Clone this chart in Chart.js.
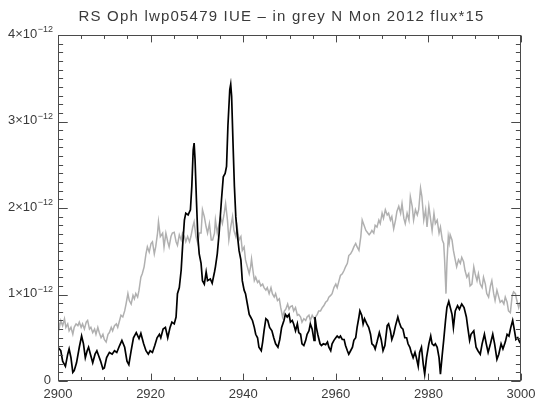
<!DOCTYPE html>
<html>
<head>
<meta charset="utf-8">
<title>RS Oph lwp05479 IUE</title>
<script src="https://cdn.jsdelivr.net/npm/chart.js@4.4.1/dist/chart.umd.min.js"></script>
<style>
  html, body { margin: 0; padding: 0; background: #ffffff; }
  canvas { display: block; }
</style>
</head>
<body>
<canvas id="spec" width="535" height="401"></canvas>
<script>
// RS Oph, IUE LWP 05479 spectrum (flux in units of 1e-12)
const lwpWave = [
  2900.0, 2900.6, 2901.0, 2901.6, 2902.1, 2902.4, 2902.8, 2903.2, 2903.5, 2904.0,
  2904.6, 2905.1, 2905.5, 2905.9, 2906.3, 2906.6, 2907.0, 2907.5, 2908.0, 2908.4,
  2908.8, 2909.2, 2909.7, 2910.0, 2910.5, 2911.1, 2911.7, 2912.2, 2912.7, 2913.3,
  2913.8, 2914.4, 2914.9, 2915.3, 2915.8, 2916.3, 2916.9, 2917.5, 2917.9, 2918.5,
  2919.0, 2919.5, 2919.9, 2920.4, 2920.9, 2921.4, 2921.9, 2922.2, 2922.7, 2923.2,
  2923.7, 2924.2, 2924.6, 2925.1, 2925.5, 2925.8, 2926.2, 2926.6, 2926.9, 2927.3,
  2927.6, 2928.1, 2928.6, 2928.9, 2929.2, 2929.4, 2929.6, 2929.9, 2930.2, 2930.5,
  2930.9, 2931.2, 2931.6, 2932.0, 2932.3, 2932.9, 2933.3, 2933.8, 2934.0, 2934.4,
  2934.8, 2935.3, 2935.7, 2936.1, 2936.4, 2936.7, 2937.1, 2937.3, 2937.5, 2937.8,
  2938.1, 2938.4, 2938.7, 2939.1, 2939.5, 2939.8, 2940.2, 2940.5, 2940.9, 2941.3,
  2941.6, 2942.0, 2942.4, 2942.7, 2943.1, 2943.4, 2943.9, 2944.2, 2944.5, 2944.9,
  2945.3, 2945.7, 2946.2, 2946.6, 2947.0, 2947.5, 2947.9, 2948.3, 2948.8, 2949.1,
  2949.5, 2949.9, 2950.2, 2950.6, 2950.9, 2951.3, 2951.7, 2952.0, 2952.4, 2952.7,
  2953.1, 2953.5, 2953.8, 2954.2, 2954.5, 2954.9, 2955.3, 2955.5, 2955.8, 2956.1,
  2956.6, 2956.9, 2957.3, 2957.8, 2958.2, 2958.5, 2958.9, 2959.2, 2959.6, 2960.0,
  2960.3, 2960.7, 2961.0, 2961.4, 2961.8, 2962.1, 2962.5, 2962.8, 2963.2, 2963.6,
  2963.9, 2964.3, 2964.6, 2965.0, 2965.2, 2965.6, 2965.9, 2966.2, 2966.7, 2967.1,
  2967.5, 2967.8, 2968.2, 2968.5, 2968.9, 2969.4, 2969.8, 2970.2, 2970.6, 2971.1,
  2971.4, 2971.8, 2972.1, 2972.5, 2972.9, 2973.4, 2973.7, 2974.1, 2974.5, 2974.9,
  2975.3, 2975.6, 2976.0, 2976.3, 2976.7, 2977.1, 2977.4, 2977.8, 2978.1, 2978.5,
  2978.9, 2979.2, 2979.6, 2980.1, 2980.5, 2980.8, 2981.2, 2981.5, 2981.9, 2982.3,
  2982.6, 2983.0, 2983.3, 2983.7, 2984.0, 2984.4, 2985.1, 2985.4, 2985.8, 2986.3,
  2986.7, 2987.2, 2987.7, 2988.2, 2988.5, 2988.9, 2989.2, 2989.8, 2990.3, 2990.7,
  2991.2, 2991.6, 2992.1, 2992.5, 2992.9, 2993.4, 2993.9, 2994.3, 2994.8, 2995.2,
  2995.7, 2996.1, 2996.6, 2997.0, 2997.4, 2997.8, 2998.2, 2998.6, 2998.9, 2999.3,
  2999.7, 3000.0
];
const lwpFlux = [
  0.39, 0.35, 0.23, 0.17, 0.31, 0.37, 0.27, 0.10, 0.12, 0.21,
  0.39, 0.52, 0.43, 0.27, 0.35, 0.39, 0.31, 0.21, 0.31, 0.35,
  0.29, 0.23, 0.14, 0.15, 0.27, 0.33, 0.31, 0.35, 0.33, 0.41,
  0.47, 0.39, 0.23, 0.19, 0.35, 0.50, 0.56, 0.49, 0.55, 0.43,
  0.35, 0.31, 0.35, 0.33, 0.41, 0.50, 0.54, 0.50, 0.60, 0.62,
  0.50, 0.62, 0.68, 0.66, 0.74, 1.01, 1.08, 1.28, 1.55, 1.86,
  1.94, 1.92, 1.98, 2.25, 2.67, 2.75, 2.56, 2.09, 1.67, 1.47,
  1.36, 1.16, 1.12, 1.26, 1.16, 1.18, 1.13, 1.26, 1.32, 1.47,
  1.71, 2.09, 2.36, 2.40, 2.48, 2.95, 3.37, 3.43, 3.29, 2.75,
  2.25, 1.90, 1.71, 1.51, 1.40, 1.16, 1.05, 1.01, 0.89, 0.77,
  0.74, 0.70, 0.62, 0.54, 0.50, 0.39, 0.35, 0.45, 0.58, 0.72,
  0.70, 0.62, 0.58, 0.50, 0.43, 0.39, 0.48, 0.62, 0.70, 0.77,
  0.74, 0.77, 0.68, 0.70, 0.66, 0.58, 0.66, 0.56, 0.54, 0.43,
  0.41, 0.47, 0.54, 0.58, 0.66, 0.60, 0.47, 0.74, 0.62, 0.54,
  0.43, 0.41, 0.43, 0.42, 0.45, 0.39, 0.35, 0.43, 0.47, 0.50,
  0.52, 0.50, 0.52, 0.48, 0.48, 0.41, 0.35, 0.31, 0.35, 0.39,
  0.47, 0.50, 0.62, 0.74, 0.81, 0.76, 0.66, 0.72, 0.66, 0.62,
  0.54, 0.43, 0.41, 0.37, 0.45, 0.56, 0.48, 0.35, 0.41, 0.64,
  0.66, 0.58, 0.48, 0.54, 0.64, 0.74, 0.68, 0.62, 0.60, 0.50,
  0.50, 0.43, 0.39, 0.33, 0.27, 0.33, 0.27, 0.17, 0.33, 0.39,
  0.19, 0.08, 0.27, 0.43, 0.52, 0.43, 0.41, 0.43, 0.39, 0.27,
  0.08, 0.31, 0.47, 0.70, 0.85, 0.92, 0.77, 0.62, 0.81, 0.87,
  0.83, 0.89, 0.85, 0.74, 0.62, 0.47, 0.54, 0.58, 0.39, 0.35,
  0.31, 0.43, 0.54, 0.43, 0.33, 0.43, 0.54, 0.43, 0.25, 0.31,
  0.43, 0.37, 0.45, 0.54, 0.52, 0.62, 0.70, 0.58, 0.48, 0.50,
  0.45, 0.43
];

// N Mon 2012, flux multiplied by 15 (same units)
const nmonWave = [
  2900.0, 2900.3, 2900.6, 2901.0, 2901.4, 2901.7, 2902.1, 2902.4, 2902.8, 2903.2,
  2903.5, 2903.9, 2904.3, 2904.6, 2905.0, 2905.3, 2905.7, 2906.1, 2906.4, 2906.8,
  2907.1, 2907.5, 2907.9, 2908.2, 2908.6, 2908.9, 2909.3, 2909.7, 2910.0, 2910.4,
  2910.8, 2911.1, 2911.5, 2911.8, 2912.2, 2912.6, 2912.9, 2913.3, 2913.6, 2914.0,
  2914.4, 2914.7, 2915.1, 2915.4, 2915.8, 2916.2, 2916.5, 2916.8, 2917.2, 2917.5,
  2917.9, 2918.2, 2918.6, 2919.0, 2919.3, 2919.7, 2920.1, 2920.4, 2920.8, 2921.1,
  2921.5, 2921.7, 2922.1, 2922.6, 2922.9, 2923.3, 2923.7, 2924.0, 2924.4, 2924.7,
  2925.1, 2925.5, 2925.8, 2926.2, 2926.6, 2926.9, 2927.3, 2927.6, 2928.0, 2928.4,
  2928.7, 2929.1, 2929.4, 2929.8, 2930.2, 2930.5, 2930.9, 2931.2, 2931.6, 2932.0,
  2932.3, 2932.7, 2933.1, 2933.4, 2933.8, 2934.0, 2934.4, 2934.8, 2935.1, 2935.5,
  2935.9, 2936.2, 2936.6, 2936.9, 2937.3, 2937.7, 2938.0, 2938.4, 2938.7, 2939.1,
  2939.5, 2939.8, 2940.2, 2940.5, 2940.9, 2941.3, 2941.6, 2941.8, 2942.1, 2942.4,
  2942.7, 2943.1, 2943.4, 2943.8, 2944.2, 2944.5, 2944.9, 2945.2, 2945.6, 2946.0,
  2946.3, 2946.7, 2947.0, 2947.4, 2947.8, 2948.1, 2948.5, 2948.9, 2949.2, 2949.6,
  2949.9, 2950.2, 2950.6, 2950.9, 2951.3, 2951.7, 2952.0, 2952.4, 2952.7, 2953.1,
  2953.5, 2953.8, 2954.2, 2954.5, 2954.9, 2955.3, 2955.6, 2956.0, 2956.3, 2956.7,
  2957.1, 2957.4, 2957.8, 2958.2, 2958.5, 2958.9, 2959.2, 2959.6, 2960.0, 2960.3,
  2960.7, 2961.0, 2961.4, 2961.8, 2962.1, 2962.5, 2962.8, 2963.2, 2963.6, 2963.9,
  2964.3, 2964.6, 2965.0, 2965.4, 2965.7, 2966.1, 2966.5, 2966.8, 2967.2, 2967.5,
  2967.8, 2968.2, 2968.5, 2968.9, 2969.3, 2969.6, 2970.0, 2970.3, 2970.7, 2971.1,
  2971.4, 2971.8, 2972.1, 2972.5, 2972.9, 2973.2, 2973.6, 2974.0, 2974.3, 2974.7,
  2975.0, 2975.4, 2975.8, 2976.1, 2976.5, 2976.8, 2977.2, 2977.6, 2977.9, 2978.3,
  2978.6, 2979.0, 2979.4, 2979.7, 2980.1, 2980.5, 2980.8, 2981.2, 2981.5, 2981.9,
  2982.3, 2982.6, 2983.0, 2983.3, 2983.5, 2983.8, 2984.0, 2984.3, 2984.5, 2984.7,
  2985.1, 2985.4, 2985.8, 2986.1, 2986.5, 2986.9, 2987.2, 2987.6, 2987.9, 2988.3,
  2988.7, 2989.0, 2989.4, 2989.8, 2990.1, 2990.5, 2990.8, 2991.2, 2991.6, 2991.9,
  2992.3, 2992.6, 2993.0, 2993.4, 2993.7, 2994.1, 2994.4, 2994.8, 2995.2, 2995.5,
  2995.9, 2996.3, 2996.6, 2997.0, 2997.3, 2997.7, 2998.1, 2998.4, 2998.8, 2999.1,
  2999.5, 2999.8
];
const nmonFlux = [
  0.70, 0.62, 0.70, 0.64, 0.72, 0.62, 0.66, 0.58, 0.62, 0.54,
  0.62, 0.66, 0.64, 0.68, 0.62, 0.66, 0.60, 0.68, 0.70, 0.60,
  0.62, 0.56, 0.60, 0.54, 0.62, 0.56, 0.50, 0.54, 0.48, 0.45,
  0.54, 0.56, 0.62, 0.58, 0.64, 0.66, 0.62, 0.70, 0.76, 0.74,
  0.81, 0.89, 1.01, 0.93, 0.89, 0.99, 0.95, 1.01, 0.97, 1.05,
  1.20, 1.24, 1.32, 1.47, 1.55, 1.49, 1.59, 1.61, 1.47, 1.55,
  1.71, 1.84, 1.67, 1.71, 1.55, 1.71, 1.61, 1.55, 1.67, 1.71,
  1.72, 1.61, 1.57, 1.69, 1.63, 1.71, 1.67, 1.61, 1.67, 1.61,
  1.67, 1.78, 1.84, 1.67, 1.59, 1.71, 1.71, 1.98, 1.90, 1.78,
  1.71, 1.82, 1.63, 1.63, 1.71, 1.86, 1.71, 1.82, 1.90, 1.82,
  1.94, 2.05, 1.86, 1.63, 1.78, 1.90, 1.74, 1.67, 1.78, 1.63,
  1.67, 1.51, 1.55, 1.40, 1.32, 1.24, 1.32, 1.41, 1.28, 1.16,
  1.20, 1.14, 1.16, 1.10, 1.12, 1.08, 1.05, 1.08, 1.01, 1.08,
  1.01, 0.97, 1.01, 0.93, 0.95, 0.85, 0.74, 0.81, 0.83, 0.89,
  0.83, 0.86, 0.87, 0.81, 0.85, 0.76, 0.77, 0.74, 0.68, 0.72,
  0.70, 0.74, 0.76, 0.70, 0.76, 0.72, 0.74, 0.77, 0.81, 0.81,
  0.85, 0.87, 0.91, 0.93, 0.97, 0.99, 1.01, 1.08, 1.12, 1.08,
  1.16, 1.22, 1.24, 1.28, 1.32, 1.36, 1.45, 1.47, 1.51, 1.55,
  1.59, 1.55, 1.51, 1.67, 1.86, 1.80, 1.74, 1.72, 1.69, 1.71,
  1.74, 1.71, 1.80, 1.78, 1.86, 1.82, 1.94, 1.88, 1.98, 1.92,
  1.94, 1.86, 1.90, 1.76, 1.86, 1.96, 2.02, 1.94, 2.05, 1.88,
  1.82, 1.94, 1.86, 2.13, 2.02, 1.86, 1.98, 1.92, 1.98, 2.23,
  2.13, 1.86, 1.98, 1.78, 2.02, 1.86, 1.74, 1.94, 1.82, 1.86,
  1.71, 1.78, 1.63, 1.59, 1.40, 1.01, 1.36, 1.67, 1.60, 1.69,
  1.63, 1.51, 1.40, 1.32, 1.40, 1.36, 1.43, 1.38, 1.28, 1.20,
  1.24, 1.10, 1.12, 1.32, 1.24, 1.16, 1.24, 1.12, 1.08, 1.20,
  1.12, 1.01, 0.97, 1.10, 1.16, 1.01, 0.93, 1.05, 0.97, 0.91,
  0.93, 0.89, 0.97, 0.91, 0.81, 0.79, 0.99, 1.03, 1.01, 0.93,
  0.85, 0.91
];

const FLUX_UNIT = 1e-12;
const xTicks = [2900, 2920, 2940, 2960, 2980, 3000];
const xTickLabels = ['2900', '2920', '2940', '2960', '2980', '3000'];
const yTicks = [0, 1, 2, 3, 4];
const yTickMantissas = ['0', '1\u00d710', '2\u00d710', '3\u00d710', '4\u00d710'];
const yTickExponents = ['', '\u221212', '\u221212', '\u221212', '\u221212'];
const titleText = 'RS Oph lwp05479 IUE \u2013 in grey N Mon 2012 flux*15';

const toPoints = (w, f) => w.map((x, i) => ({ x: x, y: f[i] * FLUX_UNIT }));

const FONT = '"Liberation Sans", Arial, Helvetica, sans-serif';
const INK = '#3a3a3a';

// IDL-style frame: box, inward ticks on all four sides, labels, title
const idlFrame = {
  id: 'idlFrame',
  afterDatasetsDraw(chart) {
    const { ctx, chartArea: a, scales } = chart;
    const xs = scales.x, ys = scales.y;
    const L = a.left + 0.5, R = a.right - 0.5, T = a.top + 0.5, B = a.bottom - 0.5;
    ctx.save();
    ctx.strokeStyle = '#4a4a4a';
    ctx.lineWidth = 1;
    ctx.strokeRect(L, T, R - L, B - T);

    const h = B - T, w = R - L;
    const xMaj = 0.02 * h, yMaj = 0.02 * w;
    ctx.beginPath();
    // x ticks: major every 20, minor every 5
    for (let v = xs.min; v <= xs.max + 1e-9; v += 5) {
      const px = Math.round(xs.getPixelForValue(v)) + 0.5;
      const len = (Math.round(v - xs.min) % 20 === 0) ? xMaj : xMaj / 2;
      ctx.moveTo(px, B); ctx.lineTo(px, B - len);
      ctx.moveTo(px, T); ctx.lineTo(px, T + len);
    }
    // y ticks: major every 1e-12, minor every 1e-13
    for (let k = 0; k <= 40; k++) {
      const v = k * 0.1 * FLUX_UNIT;
      const py = Math.round(ys.getPixelForValue(v)) + 0.5;
      const len = (k % 10 === 0) ? yMaj : yMaj / 2;
      ctx.moveTo(L, py); ctx.lineTo(L + len, py);
      ctx.moveTo(R, py); ctx.lineTo(R - len, py);
    }
    ctx.stroke();

    ctx.fillStyle = INK;
    // x tick labels
    ctx.font = '13px ' + FONT;
    ctx.textAlign = 'center';
    ctx.textBaseline = 'middle';
    xTicks.forEach((v, i) => {
      ctx.fillText(xTickLabels[i], xs.getPixelForValue(v), a.bottom + 13);
    });

    // y tick labels with superscript exponent
    const rightEdge = a.left - 5;
    yTicks.forEach((v, i) => {
      const py = ys.getPixelForValue(v * FLUX_UNIT) - 1;
      let edge = rightEdge;
      ctx.textAlign = 'right';
      if (yTickExponents[i]) {
        ctx.font = '9px ' + FONT;
        ctx.textBaseline = 'middle';
        ctx.fillText(yTickExponents[i], edge, py - 4);
        edge -= ctx.measureText(yTickExponents[i]).width + 0.5;
      } else {
        edge -= 2;
      }
      ctx.font = '13px ' + FONT;
      ctx.textBaseline = 'middle';
      ctx.fillText(yTickMantissas[i], edge, py);
    });

    // title, spread across the top like the plotting package does
    ctx.font = '15px ' + FONT;
    ctx.textAlign = 'left';
    ctx.textBaseline = 'alphabetic';
    const target = 405;
    const natural = ctx.measureText(titleText).width;
    const spacing = Math.max(0, (target - natural) / (titleText.length - 1));
    ctx.letterSpacing = spacing.toFixed(2) + 'px';
    const cx = 281;
    ctx.fillText(titleText, cx - target / 2, 21);
    ctx.letterSpacing = '0px';
    ctx.restore();
  }
};

const bg = {
  id: 'bg',
  beforeDraw(chart) {
    const c = chart.ctx;
    c.save();
    c.fillStyle = '#ffffff';
    c.fillRect(0, 0, chart.width, chart.height);
    c.restore();
  }
};

new Chart(document.getElementById('spec'), {
  type: 'line',
  data: {
    datasets: [
      {
        label: 'RS Oph lwp05479',
        data: toPoints(lwpWave, lwpFlux),
        borderColor: '#000000',
        borderWidth: 1.7,
        pointRadius: 0,
        tension: 0,
        order: 0
      },
      {
        label: 'N Mon 2012 \u00d7 15',
        data: toPoints(nmonWave, nmonFlux),
        borderColor: '#b0b0b0',
        borderWidth: 1.5,
        pointRadius: 0,
        tension: 0,
        order: 1
      }
    ]
  },
  options: {
    responsive: false,
    animation: false,
    events: [],
    layout: { padding: { left: 58, right: 14, top: 35, bottom: 20 } },
    plugins: {
      legend: { display: false },
      title: { display: false },
      tooltip: { enabled: false }
    },
    scales: {
      x: { type: 'linear', min: 2900, max: 3000, display: false },
      y: { type: 'linear', min: 0, max: 4 * FLUX_UNIT, display: false }
    }
  },
  plugins: [bg, idlFrame]
});
</script>
</body>
</html>
